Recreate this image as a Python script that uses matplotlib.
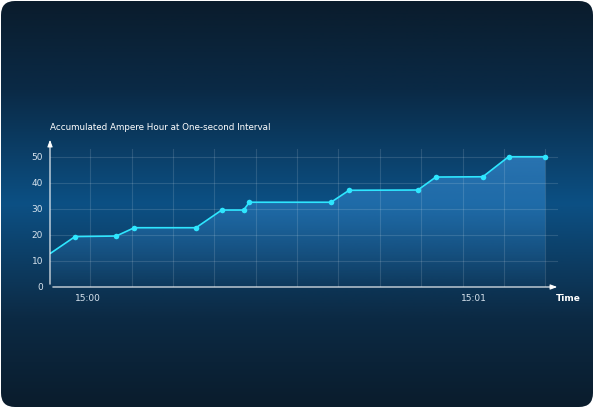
import numpy as np
import matplotlib
matplotlib.use("Agg")
import matplotlib.pyplot as plt
from matplotlib.patches import FancyBboxPatch, Polygon
from matplotlib.colors import LinearSegmentedColormap

# seconds after 15:00, accumulated Ah
secs = [-5.8, -2.0, 4.4, 7.2, 16.8, 20.8, 24.2, 25.1, 37.8, 40.6, 51.3, 54.1, 61.4, 65.4, 71.1]
amp_hours = [13.0, 19.4, 19.6, 22.8, 22.8, 29.6, 29.6, 32.6, 32.6, 37.2, 37.3, 42.3, 42.4, 50.1, 50.1]
tick_secs = [0, 60]
tick_labels = ["15:00", "15:01"]
grid_secs = [0.3, 6.8, 13.3, 19.6, 26.1, 32.5, 38.9, 45.4, 51.8, 58.3, 64.7, 71.1]

W, H = 594, 408
fig = plt.figure(figsize=(W / 100, H / 100), dpi=100, facecolor="white")

# background card with vertical gradient
bg = fig.add_axes([0, 0, 1, 1])
bg.set_xlim(0, W)
bg.set_ylim(0, H)
bg.axis("off")
card = FancyBboxPatch((1, 1), W - 2, H - 2, boxstyle="round,pad=0,rounding_size=14",
                      facecolor="none", edgecolor="none")
bg.add_patch(card)
bg_cmap = LinearSegmentedColormap.from_list("bg", [
    (0.0, "#0a1c2c"), (0.22, "#0c2a44"), (0.50, "#0c5084"), (0.78, "#0a2a46"), (1.0, "#0a1c2c")])
grad = np.linspace(0, 1, 256).reshape(-1, 1)
im = bg.imshow(grad, cmap=bg_cmap, extent=[0, W, H, 0], aspect="auto")
im.set_clip_path(card)
bg.set_ylim(0, H)

ax = fig.add_axes([50 / W, 121 / H, 510 / W, 150 / H])
ax.patch.set_alpha(0)
x0, x1 = -5.9, 73.4
ymax = 150 / 2.6
ax.set_xlim(x0, x1)
ax.set_ylim(0, ymax)

# gradient fill under the line
fill_cmap = LinearSegmentedColormap.from_list("fill", [(0.25, 0.6, 0.9, 0.05), (0.25, 0.6, 0.9, 0.6)])
fim = ax.imshow(np.linspace(0, 1, 256).reshape(-1, 1), cmap=fill_cmap, origin="lower",
                extent=[x0, x1, 0, 52], aspect="auto", zorder=1)
poly = Polygon(list(zip(secs, amp_hours)) + [(secs[-1], 0), (secs[0], 0)],
               closed=True, facecolor="none", edgecolor="none", transform=ax.transData)
ax.add_patch(poly)
fim.set_clip_path(poly)
ax.set_xlim(x0, x1)
ax.set_ylim(0, ymax)

for g in grid_secs:
    ax.plot([g, g], [0, 53], color="white", alpha=0.13, lw=0.8, zorder=2)
for v in range(10, 60, 10):
    ax.plot([x0, x1 - 0.5], [v, v], color="white", alpha=0.13, lw=0.8, zorder=2)

ax.plot(secs, amp_hours, color="#2ee6ff", lw=1.2, zorder=3)
ax.scatter(secs[1:], amp_hours[1:], s=16, color="#2ee6ff", zorder=4, linewidths=0)

for s in ax.spines.values():
    s.set_visible(False)
ax.annotate("", xy=(x0, ymax), xytext=(x0, 0),
            arrowprops=dict(arrowstyle="-|>,head_width=0.15,head_length=0.4", color="white", lw=0.8))
ax.annotate("", xy=(x1, 0), xytext=(x0, 0),
            arrowprops=dict(arrowstyle="-|>,head_width=0.15,head_length=0.4", color="white", lw=0.8))

ax.set_yticks(range(0, 60, 10))
ax.set_xticks(tick_secs)
ax.set_xticklabels(tick_labels)
ax.tick_params(length=0, colors="#d8e4ee", labelsize=6.5, pad=5)
ax.text(x1 - 0.6, -2.8, "Time", color="white", fontsize=6.5, fontweight="bold",
        ha="left", va="top")

fig.text(50 / W, 1 - 127 / H, "Accumulated Ampere Hour at One-second Interval",
         color="white", fontsize=6.3, va="center")

fig.savefig("out.png", dpi=100, facecolor="white")
